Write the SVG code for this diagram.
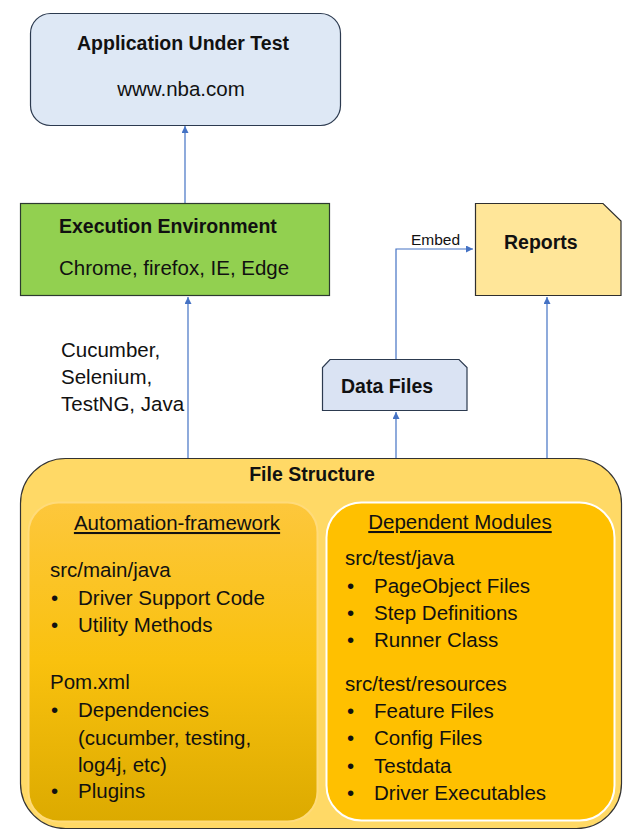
<svg xmlns="http://www.w3.org/2000/svg" width="625" height="834" viewBox="0 0 625 834">
<style>
text{font-family:"Liberation Sans",Arial,sans-serif;fill:#111;}
.t{font-size:19.5px;font-weight:bold;}
.n{font-size:20.5px;}
.c{stroke:#4472c4;stroke-width:1.2;fill:none;marker-end:url(#ah);}
</style>
<defs>
<marker id="ah" viewBox="0 0 10 10" refX="10" refY="5" markerWidth="7" markerHeight="7" markerUnits="userSpaceOnUse" orient="auto">
<path d="M0,0 L10,5 L0,10 z" fill="#4472c4"/>
</marker>
<linearGradient id="gl" x1="0" y1="0" x2="0" y2="1">
<stop offset="0" stop-color="#fdc73c"/>
<stop offset="0.5" stop-color="#f9c10e"/>
<stop offset="1" stop-color="#dcaa00"/>
</linearGradient>
</defs>
<g id="connectors">
<path class="c" d="M185,203 V126"/>
<path class="c" d="M188,458 V297"/>
<path class="c" d="M396,458 V412"/>
<path class="c" d="M547,458 V297"/>
<path class="c" d="M396,359 V249 H473"/>
<text x="411" y="245" style="font-size:15.5px">Embed</text>
</g>
<g id="app">
<rect x="30.5" y="13.5" width="310" height="112" rx="20" fill="#dee8f5" stroke="#2c3a4f" stroke-width="1.2"/>
<text class="t" x="183" y="50" text-anchor="middle">Application Under Test</text>
<text class="n" x="181" y="96" text-anchor="middle">www.nba.com</text>
</g>
<g id="exec">
<rect x="20.5" y="203.5" width="309" height="92" fill="#92d050" stroke="#2c3a2f" stroke-width="1.2"/>
<text class="t" x="59" y="233">Execution Environment</text>
<text class="n" x="59" y="275">Chrome, firefox, IE, Edge</text>
</g>
<g id="reports">
<path d="M475.5,203.5 H603 L621,221 V295.5 H475.5 Z" fill="#ffe699" stroke="#2f2f2f" stroke-width="1.2"/>
<text class="t" x="504" y="249">Reports</text>
</g>
<g id="data">
<path d="M330,359.5 H459 L467,367.5 V410.5 H322.5 V367.5 Z" fill="#dae3f3" stroke="#2c3a4f" stroke-width="1.2"/>
<text class="t" x="341" y="393">Data Files</text>
</g>
<g id="tools">
<text class="n" x="61" y="357">Cucumber,</text>
<text class="n" x="61" y="384">Selenium,</text>
<text class="n" x="61" y="411">TestNG, Java</text>
</g>
<g id="filestructure">
<rect x="20.5" y="458.5" width="601" height="370" rx="45" fill="#ffd966" stroke="#333" stroke-width="1.2"/>
<text class="t" x="312" y="481" text-anchor="middle">File Structure</text>
</g>
<g id="automation">
<rect x="28.5" y="502.5" width="289" height="319" rx="30" fill="url(#gl)" stroke="#ffdb7a" stroke-width="2"/>
<text class="n" x="177" y="530" text-anchor="middle" text-decoration="underline">Automation-framework</text>
<text class="n" x="50" y="577">src/main/java</text>
<text class="n" x="51" y="605">•</text><text class="n" x="78" y="605">Driver Support Code</text>
<text class="n" x="51" y="632">•</text><text class="n" x="78" y="632">Utility Methods</text>
<text class="n" x="50" y="689">Pom.xml</text>
<text class="n" x="51" y="717">•</text><text class="n" x="78" y="717">Dependencies</text>
<text class="n" x="78" y="745">(cucumber, testing,</text>
<text class="n" x="78" y="772">log4j, etc)</text>
<text class="n" x="51" y="798">•</text><text class="n" x="78" y="798">Plugins</text>
</g>
<g id="dependent">
<rect x="326.5" y="502.5" width="288" height="318" rx="35" fill="#ffc000" stroke="#ffffff" stroke-width="2"/>
<text class="n" x="460" y="529" text-anchor="middle" text-decoration="underline">Dependent Modules</text>
<text class="n" x="345" y="565">src/test/java</text>
<text class="n" x="347" y="593">•</text><text class="n" x="374" y="593">PageObject Files</text>
<text class="n" x="347" y="620">•</text><text class="n" x="374" y="620">Step Definitions</text>
<text class="n" x="347" y="647">•</text><text class="n" x="374" y="647">Runner Class</text>
<text class="n" x="345" y="691">src/test/resources</text>
<text class="n" x="347" y="718">•</text><text class="n" x="374" y="718">Feature Files</text>
<text class="n" x="347" y="745">•</text><text class="n" x="374" y="745">Config Files</text>
<text class="n" x="347" y="773">•</text><text class="n" x="374" y="773">Testdata</text>
<text class="n" x="347" y="800">•</text><text class="n" x="374" y="800">Driver Executables</text>
</g>
</svg>
